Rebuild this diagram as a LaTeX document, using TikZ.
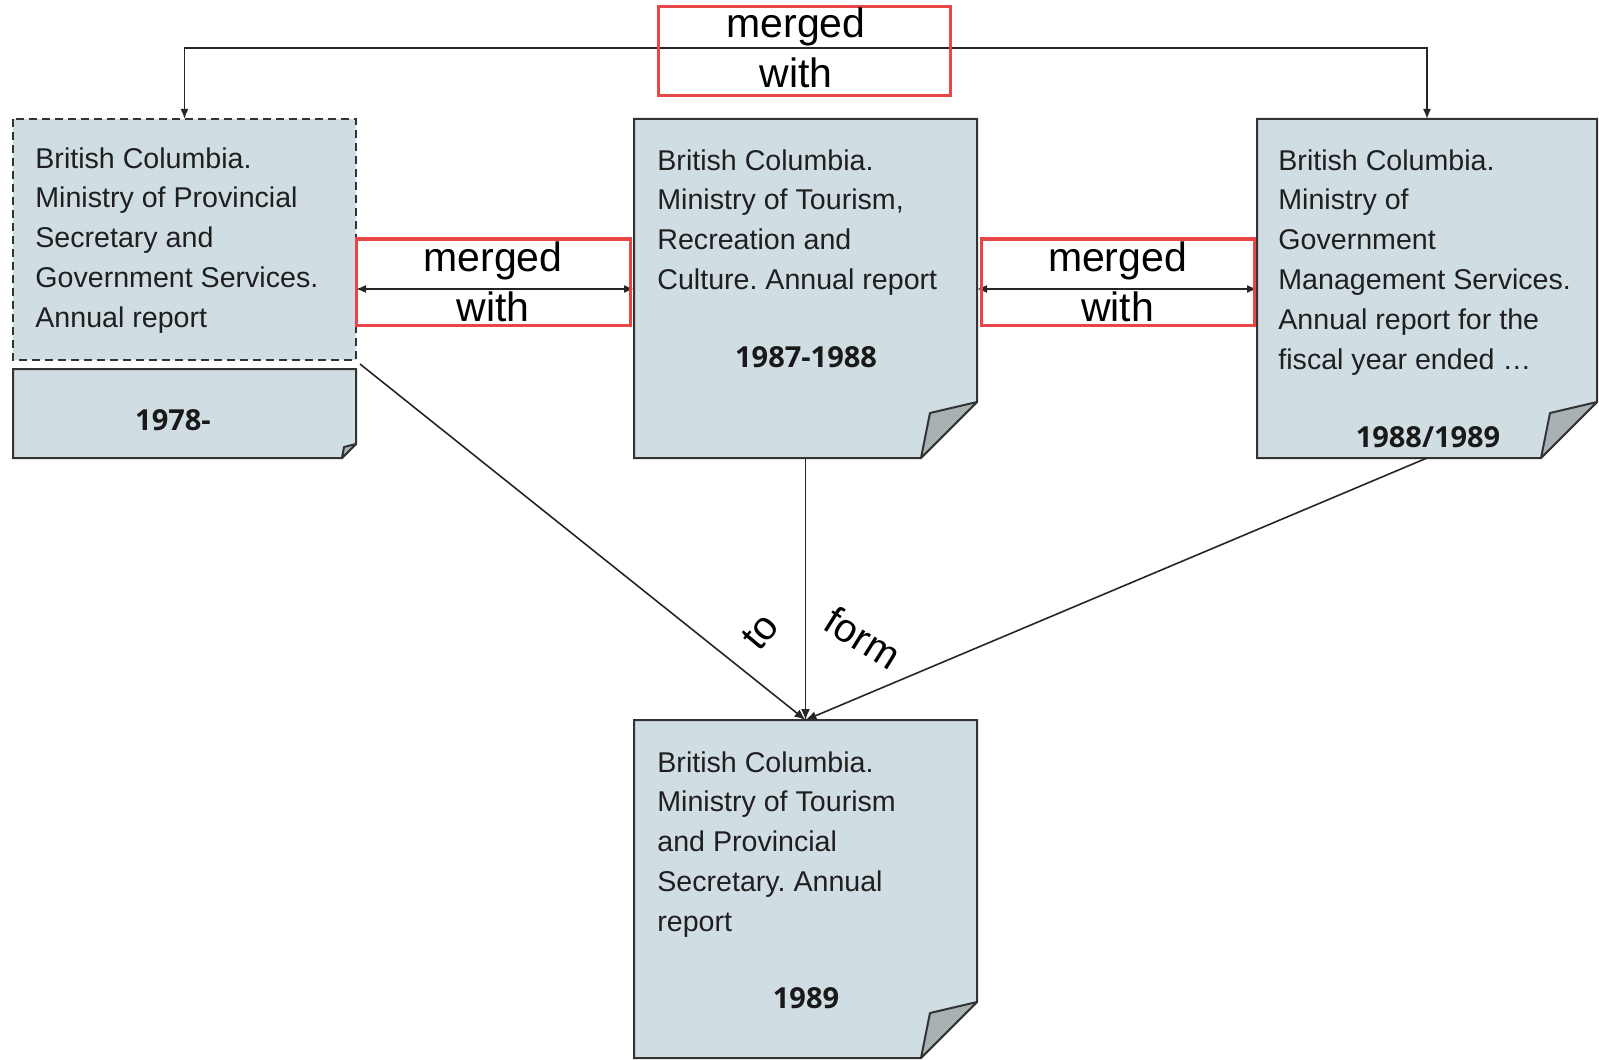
\documentclass[tikz,border=0pt]{standalone}
\usepackage{fontspec}
\setmainfont{Liberation Sans}
\newfontfamily\yearfont{Open Sans}
\usetikzlibrary{arrows.meta,fit}
\definecolor{docfill}{HTML}{D0DEE3}
\definecolor{foldfill}{HTML}{A8B2B5}
\definecolor{docline}{HTML}{333333}
\definecolor{redline}{HTML}{E84646}
\frenchspacing
\begin{document}
\begin{tikzpicture}[x=0.5pt,y=-0.5pt,
 doc/.style={fill=docfill, draw=docline, line width=1pt, line join=miter},
 fold/.style={fill=foldfill, draw=docline, line width=1pt, line join=round},
 anchorbox/.style={inner sep=0pt, outer sep=0pt},
 body/.style={anchor=north west, align=left, inner sep=0pt, font=\fontsize{14.3}{19.9}\selectfont, text=black!88},
 year/.style={anchor=base, inner sep=0pt, font=\yearfont\bfseries\fontsize{14.5}{17}\selectfont, text=black!90},
 redbox/.style={draw=redline, line width=1.5pt, inner sep=0pt, align=center, font=\fontsize{20.5}{25}\selectfont},
 conn/.style={draw=black!85, line width=0.8pt, -{Latex[length=5.5pt,width=4.5pt]}},
 biconn/.style={draw=black!85, line width=0.8pt, {Latex[length=5pt,width=4pt]}-{Latex[length=5pt,width=4pt]}},
 lbl/.style={font=\fontsize{20}{24}\selectfont, inner sep=0pt}]

\useasboundingbox[fill=white] (0,0) rectangle (1599,1059);

% left upper (dashed) box
\fill[docfill] (13,119) rectangle (356,360);
\draw[docline, line width=1pt, dash pattern=on 4pt off 2.5pt] (13,119) rectangle (356,360);
\node[anchorbox, fit={(13,119)(356,360)}] (L) {};

% left lower box
\path[doc] (13,369) -- (356,369) -- (356,444) -- (342,458) -- (13,458) -- cycle;
\path[fold] (356,444) -- (344,447) -- (342,458) -- cycle;
\node[anchorbox, fit={(13,369)(356,458)}] (L2) {};

% center box
\path[doc] (634,119) -- (977,119) -- (977,402) -- (921,458) -- (634,458) -- cycle;
\path[fold] (977,402) -- (930,413) -- (921,458) -- cycle;
\node[anchorbox, fit={(634,119)(977,458)}] (C) {};

% right box
\path[doc] (1257,119) -- (1597,119) -- (1597,402) -- (1541,458) -- (1257,458) -- cycle;
\path[fold] (1597,402) -- (1550,413) -- (1541,458) -- cycle;
\node[anchorbox, fit={(1257,119)(1597,458)}] (R) {};

% bottom box
\path[doc] (634,720) -- (977,720) -- (977,1002) -- (921,1058) -- (634,1058) -- cycle;
\path[fold] (977,1002) -- (930,1013) -- (921,1058) -- cycle;
\node[anchorbox, fit={(634,720)(977,1058)}] (B) {};

% texts
\node[body] (tL) at (35,147) {British Columbia.\\Ministry of Provincial\\Secretary and\\Government Services.\\Annual report};
\node[year] (yL) at (173,430) {1978-};
\node[body] (tC) at (657,149) {British Columbia.\\Ministry of Tourism,\\Recreation and\\Culture. Annual report};
\node[year] (yC) at (806,367) {1987-1988};
\node[body] (tR) at (1278,149) {British Columbia.\\Ministry of\\Government\\Management Services.\\Annual report for the\\fiscal year ended \dots};
\node[year] (yR) at (1428,447) {1988/1989};
\node[body] (tB) at (657,751) {British Columbia.\\Ministry of Tourism\\and Provincial\\Secretary. Annual\\report};
\node[year] (yB) at (806,1008) {1989};

% connectors
\coordinate (topmid) at (806,48);
\draw[biconn] (L.north) |- (topmid) -| (R.north);
\coordinate (lvl) at (0,289);
\draw[biconn] (L.east |- lvl) -- (C.west |- lvl);
\draw[biconn] (C.east |- lvl) -- (R.west |- lvl);
\draw[conn] ([shift={(4,4)}]L.south east) -- (B.north);
\draw[conn] (C.south) -- (B.north);
\draw[conn] (R.south) -- (B.north);

% red label boxes
\node[redbox, minimum width=146pt, minimum height=44.5pt] (m0) at (804,51.5) {\hspace*{-8pt}merged\\\hspace*{-8pt}with\rule[-4pt]{0pt}{4pt}};
\node[redbox, minimum width=137pt, minimum height=43pt] (m1) at (493,282) {merged\\with};
\node[redbox, minimum width=136.5pt, minimum height=43pt] (m2) at (1117.5,282) {merged\\with};

% labels on converging arrows
\node[lbl, rotate=50] (lto) at (760,632) {to};
\node[lbl, rotate=-32] (lform) at (863,638) {form};
\end{tikzpicture}
\end{document}
